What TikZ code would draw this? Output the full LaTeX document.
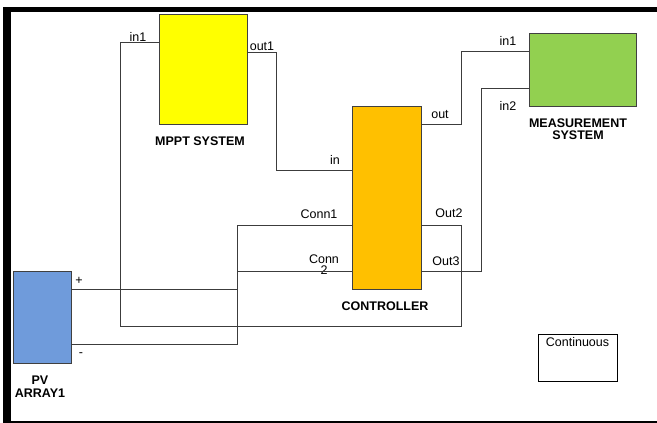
\documentclass[tikz,border=0pt]{standalone}
\usepackage{fontspec}
\setmainfont{Liberation Sans}
\definecolor{mpptyellow}{HTML}{FFFF00}
\definecolor{ctrlorange}{HTML}{FFC000}
\definecolor{measgreen}{HTML}{92D050}
\definecolor{pvblue}{HTML}{6F9BDB}
\definecolor{blockedge}{HTML}{404040}
\definecolor{wiregray}{HTML}{3C3C3C}
\begin{document}
\begin{tikzpicture}[x=1pt, y=-1pt,
  block/.style={draw=blockedge, line width=1pt, inner sep=0pt},
  port/.style={inner sep=0pt, font=\fontsize{12.5}{13}\selectfont},
  title/.style={inner sep=0pt, align=center, font=\fontsize{12.5}{12.5}\selectfont\bfseries},
  wire/.style={draw=wiregray, line width=1pt}]
\useasboundingbox (0,0) rectangle (657,423);
% frame
\fill (3,7) rectangle (11,423);
\fill (3,7) rectangle (657,12);
\fill (3,421) rectangle (657,423);
% blocks
\node[block, fill=mpptyellow, minimum width=88pt, minimum height=110pt] (mppt) at (203,69) {};
\node[block, fill=ctrlorange, minimum width=69pt, minimum height=183pt] (controller) at (386.5,197.5) {};
\node[block, fill=measgreen, minimum width=107pt, minimum height=73pt] (measurement) at (582.5,69.5) {};
\node[block, fill=pvblue, minimum width=58pt, minimum height=92pt] (pv) at (42,317) {};
\node[draw, line width=0.8pt, minimum width=79pt, minimum height=47pt] (solver) at (577.5,357.5) {};
\node[port] (solvertext) at (577.5,342) {Continuous};
% block titles
\node[title] (mppttitle) at (200,141) {MPPT SYSTEM};
\node[title] (ctrltitle) at (385,306) {CONTROLLER};
\node[title] (meastitle) at (578,129) {MEASUREMENT\\SYSTEM};
\node[title] (pvtitle) at (40,386.5) {PV\\ARRAY1};
% ports
\coordinate (mpptin1) at (159,42);
\coordinate (mpptout1) at (247,52);
\coordinate (ctrlin) at (352,170);
\coordinate (ctrlconn1) at (352,225);
\coordinate (ctrlconn2) at (352,271);
\coordinate (ctrlout) at (421,124);
\coordinate (ctrlout2) at (421,225);
\coordinate (ctrlout3) at (421,271);
\coordinate (measin1) at (529,51);
\coordinate (measin2) at (529,88);
\coordinate (pvplus) at (71,289);
\coordinate (pvminus) at (71,344);
% port labels
\node[port] (lblmpptin1) at (138,37) {in1};
\node[port] (lblmpptout1) at (262,46) {out1};
\node[port] (lblctrlin) at (335,160) {in};
\node[port] (lblconn1) at (319,214) {Conn1};
\node[port, align=center, font=\fontsize{12.5}{11}\selectfont] (lblconn2) at (324,265) {Conn\\2};
\node[port] (lblctrlout) at (440,115) {out};
\node[port] (lblout2) at (449,213) {Out2};
\node[port] (lblout3) at (446,261) {Out3};
\node[port] (lblmeasin1) at (508,41) {in1};
\node[port] (lblmeasin2) at (508,106) {in2};
\node[port] (lblplus) at (79,281) {+};
\node[port] (lblminus) at (81,355) {-};
% wires
\draw[wire] (ctrlout2) -- (461,225) -- (461,326) -- (120,326) -- (120,42) -- (mpptin1);
\draw[wire] (mpptout1) -- (276,52) -- (276,170) -- (ctrlin);
\draw[wire] (ctrlout) -- (461,124) -- (461,51) -- (measin1);
\draw[wire] (measin2) -- (481,88) -- (481,271) -- (ctrlout3);
\draw[wire] (ctrlconn1) -- (237,225) -- (237,344) -- (pvminus);
\draw[wire] (ctrlconn2) -- (237,271);
\draw[wire] (pvplus) -- (237,289);
\end{tikzpicture}
\end{document}
